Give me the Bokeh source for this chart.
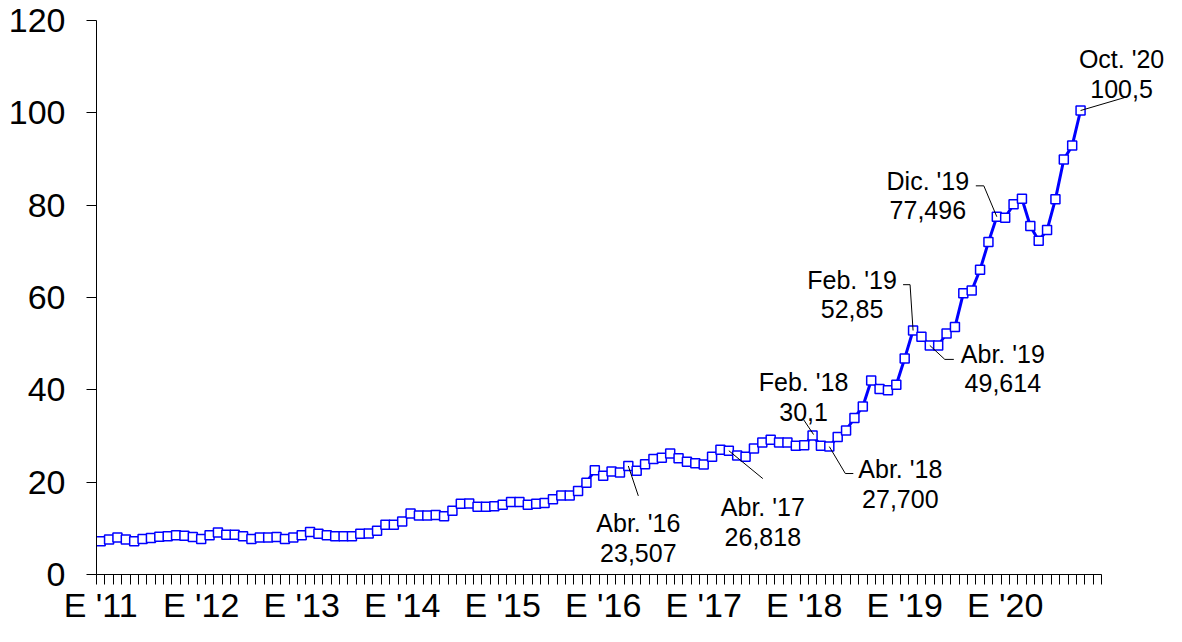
from bokeh.plotting import figure
from bokeh.models import Range1d, FixedTicker, Label
from bokeh.embed import file_html
from bokeh.resources import INLINE

# ---- data: monthly values Jan 2011 .. Oct 2020 ----
v2011 = [7.2, 7.6, 8.0, 7.6, 7.2, 7.7, 7.9, 8.2, 8.3, 8.5, 8.4, 8.1]
v2012 = [7.7, 8.5, 9.1, 8.6, 8.6, 8.3, 7.7, 8.0, 8.0, 8.1, 7.7, 8.0]
v2013 = [8.5, 9.2, 8.8, 8.5, 8.3, 8.3, 8.3, 8.8, 8.9, 9.5, 10.8, 10.8]
v2014 = [11.5, 13.2, 12.8, 12.8, 12.9, 12.6, 13.8, 15.3, 15.4, 14.7, 14.7, 14.8]
v2015 = [15.1, 15.7, 15.7, 15.1, 15.3, 15.5, 16.3, 17.1, 17.1, 18.1, 19.9, 22.6]
v2016 = [21.4, 22.3, 22.1, 23.507, 22.5, 23.9, 25.0, 25.3, 26.2, 25.2, 24.4, 24.1]
v2017 = [23.8, 25.5, 27.0, 26.818, 25.8, 25.5, 27.3, 28.6, 29.2, 28.6, 28.6, 27.9]
v2018 = [28.0, 30.1, 27.9, 27.7, 29.8, 31.2, 33.9, 36.4, 42.0, 40.2, 39.9, 41.1]
v2019 = [46.8, 52.85, 51.5, 49.614, 49.6, 52.2, 53.6, 60.9, 61.5, 66.0, 72.0, 77.496]
v2020 = [77.3, 80.2, 81.4, 75.5, 72.3, 74.6, 81.3, 89.9, 92.9, 100.5]

values = v2011 + v2012 + v2013 + v2014 + v2015 + v2016 + v2017 + v2018 + v2019 + v2020
months = list(range(len(values)))

tick_labels = ["E '11", "E '12", "E '13", "E '14", "E '15",
               "E '16", "E '17", "E '18", "E '19", "E '20"]
tick_months = [12 * k for k in range(len(tick_labels))]
n_slots = 120  # Jan 2011 .. Dec 2020

annot_idx = [63, 75, 85, 87, 97, 99, 107, 117]
annot_month = ["Abr. '16", "Abr. '17", "Feb. '18", "Abr. '18",
               "Feb. '19", "Abr. '19", "Dic. '19", "Oct. '20"]
annot_value = ["23,507", "26,818", "30,1", "27,700",
               "52,85", "49,614", "77,496", "100,5"]

# ---- layout (screen pixels) ----
W, H = 1166, 626
BL, BT, BB = 96, 20, 50
FRAME_H = H - BT - BB
MONTH_PX = 8.375
UNIT_PX = FRAME_H / 120.0
x_end = -0.5 + (W - BL) / MONTH_PX

# text offsets (dx, baseline dy line1, baseline dy line2) and leader polylines, px
text_off = [(10, 57, 87), (34, 56, 86), (-9, -54, -24), (71, 22, 52),
            (-61, -51, -22), (73, 9, 38), (-69, -36, -7), (41, -52, -22)]
leaders = [[(0, 0), (10, 30)],
           [(0, 0), (34, 28)],
           [(1, -1), (-9, -16)],
           [(0, 0), (16, 27), (24, 27)],
           [(0, 0), (-3, -46), (-10, -46)],
           [(0, 0), (15, 14), (24, 14)],
           [(0, 0), (-13, -31), (-21, -31)],
           [(0, 0), (44, -13)]]

FONT = "Liberation Sans"

p = figure(width=W, height=H, output_backend="svg", toolbar_location=None,
           x_range=Range1d(-0.5, x_end), y_range=Range1d(0, 120),
           min_border_left=BL, min_border_right=0, min_border_top=BT,
           min_border_bottom=BB)
p.outline_line_color = None
p.grid.visible = False
p.background_fill_color = "white"

# x axis: labels at January, tick marks at month boundaries
xa = p.xaxis[0]
xa.ticker = FixedTicker(ticks=tick_months,
                        minor_ticks=[m - 0.5 for m in range(n_slots + 1)])
xa.major_label_overrides = {m: t for m, t in zip(tick_months, tick_labels)}
xa.bounds = (-0.5, n_slots - 0.5)
xa.minor_tick_out = 10
xa.minor_tick_in = 0
xa.major_tick_out = 10
xa.major_tick_in = 0
xa.major_tick_line_color = None
xa.minor_tick_line_color = "black"
xa.axis_line_color = "black"
xa.major_label_text_font = FONT
xa.major_label_text_font_size = "34px"
xa.major_label_text_color = "black"
xa.major_label_standoff = 1

ya = p.yaxis[0]
ya.ticker = FixedTicker(ticks=[0, 20, 40, 60, 80, 100, 120])
ya.major_tick_out = 10
ya.major_tick_in = 0
ya.minor_tick_line_color = None
ya.axis_line_color = "black"
ya.major_tick_line_color = "black"
ya.major_label_text_font = FONT
ya.major_label_text_font_size = "34px"
ya.major_label_text_color = "black"
ya.major_label_standoff = 21

# series
p.line(months, values, line_color="#0000FF", line_width=3)
p.scatter(months, values, marker="square", size=9, fill_color="white",
          line_color="#0000FF", line_width=1.5)

# annotations
for i, mo, va, (dx, d1, d2), lead in zip(annot_idx, annot_month, annot_value,
                                         text_off, leaders):
    x0, y0 = months[i], values[i]
    xs = [x0 + a / MONTH_PX for a, b in lead]
    ys = [y0 - b / UNIT_PX for a, b in lead]
    p.line(xs, ys, line_color="black", line_width=1)
    p.add_layout(Label(x=x0, y=y0, x_offset=dx, y_offset=-d1, text=mo,
                       text_align="center", text_baseline="alphabetic",
                       text_font=FONT, text_font_size="25px", text_color="black"))
    p.add_layout(Label(x=x0, y=y0, x_offset=dx, y_offset=-d2, text=va,
                       text_align="center", text_baseline="alphabetic",
                       text_font=FONT, text_font_size="25px", text_color="black"))

open("out.html", "w").write(file_html(p, INLINE))
